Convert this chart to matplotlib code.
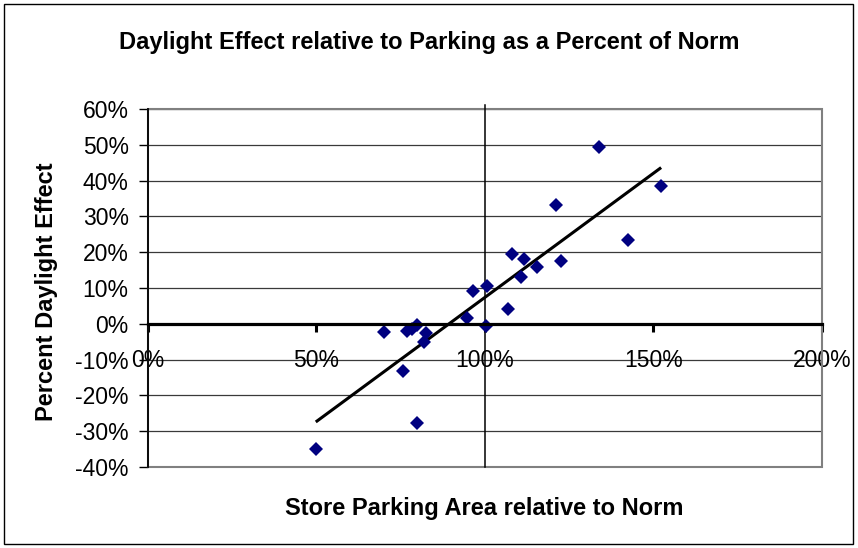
import numpy as np
import matplotlib.pyplot as plt
from matplotlib.patches import Rectangle

# store parking area relative to norm (%) and daylight effect (%)
parking_pct = [49.9, 70.1, 76.9, 78.3, 79.8, 82.6, 82.1, 75.9, 79.8, 94.8, 96.6, 100.6,
               100.4, 106.8, 108.1, 110.7, 111.7, 115.4, 121.1, 122.5, 133.9, 142.4, 152.3]
daylight_pct = [-35.0, -2.4, -2.1, -1.5, -0.2, -2.6, -5.2, -13.1, -27.6, 1.6, 9.2, 10.6,
                -0.7, 4.2, 19.5, 13.0, 18.1, 15.8, 33.3, 17.6, 49.3, 23.5, 38.6]
x_ticks = [0, 50, 100, 150, 200]
y_ticks = [-40, -30, -20, -10, 0, 10, 20, 30, 40, 50, 60]
norm = 100

plt.rcParams['font.family'] = ['Liberation Sans', 'DejaVu Sans']

W, H = 858, 548
fig = plt.figure(figsize=(W / 100, H / 100), dpi=100)
ax = fig.add_axes([147.5 / W, 1 - 467 / H, (822 - 147.5) / W, (467 - 109) / H])

x = np.array(parking_pct)
y = np.array(daylight_pct)

# gridlines
for v in y_ticks:
    ax.axhline(v, color='#3a3a3a', lw=0.9, zorder=1)

# plot area border
ax.add_patch(Rectangle((0, 0), 1, 1, transform=ax.transAxes, fill=False,
                       ec='#808080', lw=1.5, clip_on=False, zorder=2))

# norm line
ax.axvline(norm, ymin=0, ymax=1.012, color='black', lw=1.1, clip_on=False, zorder=3)

# linear trendline
k, b = np.polyfit(x, y, 1)
xs = np.array([x.min(), x.max()])
ax.plot(xs, k * xs + b, color='black', lw=2.2, zorder=4, solid_capstyle='butt')

ax.plot(x, y, 'D', color='#000080', markersize=7, markeredgewidth=0, zorder=5)

ax.set_xlim(0, 200)
ax.set_ylim(-40, 60)

ax.spines['top'].set_visible(False)
ax.spines['right'].set_visible(False)
ax.spines['left'].set_color('black')
ax.spines['left'].set_linewidth(1.3)
ax.spines['left'].set_zorder(6)
ax.spines['bottom'].set_position(('data', 0))
ax.spines['bottom'].set_linewidth(2.3)
ax.spines['bottom'].set_zorder(6)

ax.set_xticks(x_ticks)
ax.set_xticklabels([f'{v}%' for v in x_ticks])
ax.set_yticks(y_ticks)
ax.set_yticklabels([f'{v}%' for v in y_ticks])
ax.tick_params(axis='x', direction='out', length=6, width=2.2, pad=12, labelsize=16.5)
ax.tick_params(axis='y', direction='out', length=6.5, width=1, pad=7, labelsize=16.5)

fig.text(0.5, 1 - 42 / H, 'Daylight Effect relative to Parking as a Percent of Norm',
         ha='center', va='center', fontsize=17, fontweight='bold')
fig.text(484.7 / W, 1 - 509 / H, 'Store Parking Area relative to Norm',
         ha='center', va='center', fontsize=17, fontweight='bold')
fig.text(47 / W, 1 - 292 / H, 'Percent Daylight Effect', rotation=90,
         ha='center', va='center', fontsize=17, fontweight='bold')

# chart area frame
fig.add_artist(Rectangle((4 / W, 4 / H), 849 / W, 540 / H, transform=fig.transFigure,
                         fill=False, ec='black', lw=1))

fig.savefig('out.png', dpi=100)
